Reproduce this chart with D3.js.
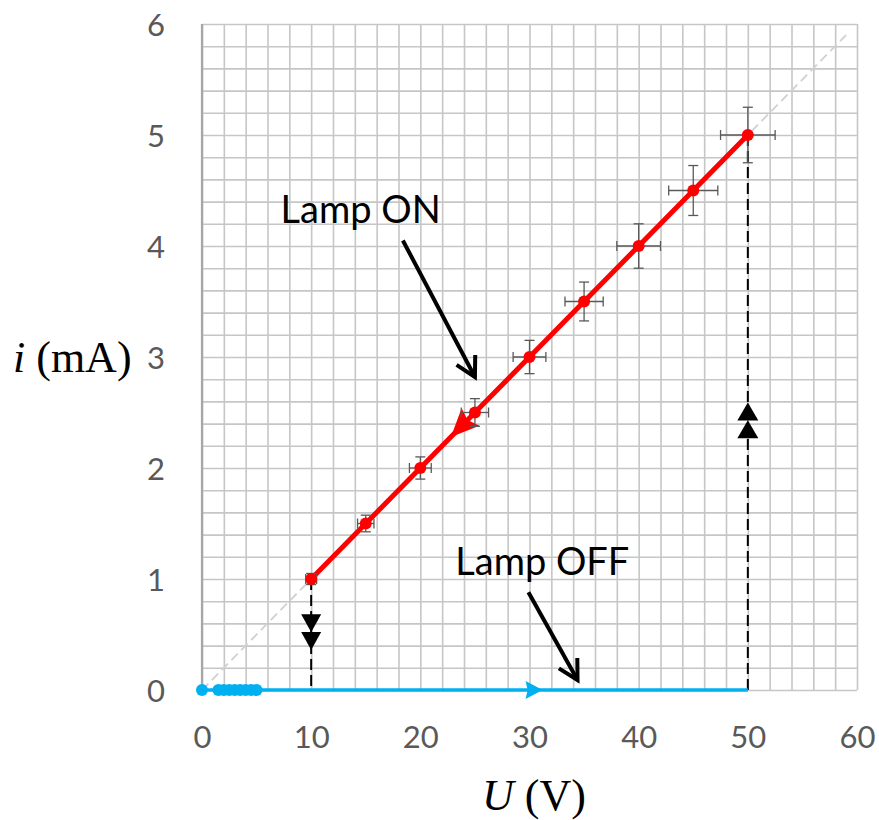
<!DOCTYPE html>
<html>
<head>
<meta charset="utf-8">
<script src="https://cdn.jsdelivr.net/npm/d3@7"></script>
<style>
  body { margin: 0; background: #fff; }
  svg { display: block; }
</style>
</head>
<body>
<div id="chart"></div>
<script>
// lamp ON branch (red), with 5% error bars
var onU    = [10, 15, 20, 25, 30, 35, 40, 45, 50];
var onI    = [1, 1.5, 2, 2.5, 3, 3.5, 4, 4.5, 5];
var onUerr = [0.5, 0.75, 1, 1.25, 1.5, 1.75, 2, 2.25, 2.5];
var onIerr = [0.05, 0.075, 0.1, 0.125, 0.15, 0.175, 0.2, 0.225, 0.25];

// lamp OFF branch (blue)
var offU = [0, 1.5, 2, 2.5, 3, 3.5, 4, 4.5, 5];
var offI = [0, 0, 0, 0, 0, 0, 0, 0, 0];
var offLineU = [0, 50];

// ohmic reference line (grey dashed)
var refU = [0, 59];
var refI = [0, 5.9];

var xTicks = [0, 10, 20, 30, 40, 50, 60];
var yTicks = [0, 1, 2, 3, 4, 5, 6];

// direction markers
var downTipsI = [0.52, 0.36];   // at U = 10
var upTipsI = [2.59, 2.43];     // at U = 50
var redArrowU = 22.8;
var blueArrowU = 31.2;

// annotations
var notes = [
  {text: "Lamp ON",  u: 7.2,  i: 4.21, fromU: 18.4, fromI: 4.05, toU: 25.0, toI: 2.82},
  {text: "Lamp OFF", u: 23.2, i: 1.04, fromU: 29.9, fromI: 0.88, toU: 34.4, toI: 0.09}
];

var W = 879, H = 820;
var svg = d3.select("#chart").append("svg")
    .attr("width", W).attr("height", H);

var x = d3.scaleLinear().domain([0, 60]).range([202, 857]);
var y = d3.scaleLinear().domain([0, 6]).range([690, 24]);

// grid
var grid = svg.append("g");
grid.append("g")
    .attr("transform", "translate(0," + y(0) + ")")
    .call(d3.axisBottom(x).tickValues(d3.range(0, 60.01, 2)).tickSize(-(y(0) - y(6))).tickFormat(""))
    .call(function(g) { g.select(".domain").remove(); })
    .selectAll("line").attr("stroke", "#c6c6c6").attr("stroke-width", 1.6);
grid.append("g")
    .attr("transform", "translate(" + x(0) + ",0)")
    .call(d3.axisLeft(y).tickValues(d3.range(0, 6.001, 0.2)).tickSize(-(x(60) - x(0))).tickFormat(""))
    .call(function(g) { g.select(".domain").remove(); })
    .selectAll("line").attr("stroke", "#c6c6c6").attr("stroke-width", 1.6);

// left axis line
svg.append("line")
    .attr("x1", x(0)).attr("x2", x(0)).attr("y1", y(0)).attr("y2", y(6))
    .attr("stroke", "#a6a6a6").attr("stroke-width", 2.2);

// tick labels
var xAxis = svg.append("g")
    .attr("transform", "translate(0," + (y(0) + 36) + ")")
    .call(d3.axisBottom(x).tickValues(xTicks).tickFormat(d3.format("d")).tickSize(0).tickPadding(0));
xAxis.select(".domain").remove();
xAxis.selectAll("text")
    .attr("font-family", "Lato, sans-serif").attr("font-size", 31)
    .attr("fill", "#595959").attr("dy", "0.71em");

var yAxis = svg.append("g")
    .attr("transform", "translate(165,0)")
    .call(d3.axisLeft(y).tickValues(yTicks).tickFormat(d3.format("d")).tickSize(0).tickPadding(0));
yAxis.select(".domain").remove();
yAxis.selectAll("text")
    .attr("font-family", "Lato, sans-serif").attr("font-size", 31)
    .attr("fill", "#595959").attr("dy", "0.36em");

// axis titles
var yt = svg.append("text").attr("x", 13).attr("y", 372)
    .attr("font-family", "'Liberation Serif', 'Times New Roman', serif").attr("font-size", 44).attr("fill", "#000");
yt.append("tspan").attr("font-style", "italic").text("i");
yt.append("tspan").text(" (mA)");

var xt = svg.append("text").attr("x", 482).attr("y", 810)
    .attr("font-family", "'Liberation Serif', 'Times New Roman', serif").attr("font-size", 44).attr("fill", "#000");
xt.append("tspan").attr("font-style", "italic").text("U");
xt.append("tspan").text(" (V)");

// reference line
svg.append("line")
    .attr("x1", x(refU[0])).attr("y1", y(refI[0]))
    .attr("x2", x(refU[1])).attr("y2", y(refI[1]))
    .attr("stroke", "#d0d0d0").attr("stroke-width", 1.8).attr("stroke-dasharray", "9,5");

// vertical dashed jumps
svg.append("line")
    .attr("x1", x(10)).attr("x2", x(10)).attr("y1", y(onI[0])).attr("y2", y(0))
    .attr("stroke", "#000").attr("stroke-width", 2).attr("stroke-dasharray", "11,5");
svg.append("line")
    .attr("x1", x(50)).attr("x2", x(50)).attr("y1", y(0)).attr("y2", y(onI[onI.length - 1]))
    .attr("stroke", "#000").attr("stroke-width", 2).attr("stroke-dasharray", "11,5");

function tri(tx, ty, angle, len, wid, notch) {
  // triangle with tip at (tx,ty) pointing along angle (radians)
  var c = Math.cos(angle), s = Math.sin(angle);
  var bx = tx - c * len, by = ty - s * len;
  var nx = bx + c * len * notch, ny = by + s * len * notch;
  return "M" + tx + "," + ty +
    "L" + (bx - s * wid / 2) + "," + (by + c * wid / 2) +
    "L" + nx + "," + ny +
    "L" + (bx + s * wid / 2) + "," + (by - c * wid / 2) + "Z";
}

downTipsI.forEach(function(v) {
  svg.append("path").attr("d", tri(x(10), y(v), Math.PI / 2, 18, 20, 0)).attr("fill", "#000");
});
upTipsI.forEach(function(v) {
  svg.append("path").attr("d", tri(x(50), y(v), -Math.PI / 2, 18, 21, 0)).attr("fill", "#000");
});

// blue OFF line and points
svg.append("line")
    .attr("x1", x(offLineU[0])).attr("x2", x(offLineU[1])).attr("y1", y(0)).attr("y2", y(0))
    .attr("stroke", "#00b0f0").attr("stroke-width", 3.5);
svg.append("path").attr("d", tri(x(blueArrowU), y(0), 0, 17, 18, 0.12)).attr("fill", "#00b0f0");
svg.selectAll(".off").data(offU).enter().append("circle")
    .attr("cx", function(d) { return x(d); })
    .attr("cy", function(d, i) { return y(offI[i]); })
    .attr("r", 6).attr("fill", "#00b0f0");

// red ON line
var line = d3.line().x(function(d) { return x(d[0]); }).y(function(d) { return y(d[1]); });
svg.append("path")
    .datum(d3.zip(onU, onI))
    .attr("d", line)
    .attr("fill", "none").attr("stroke", "#ff0000").attr("stroke-width", 5);

var ang = Math.atan2(y(onI[0]) - y(onI[1]), x(onU[0]) - x(onU[1]));
svg.append("path")
    .attr("d", tri(x(redArrowU), y(redArrowU / 10), ang, 28, 25, 0.15))
    .attr("fill", "#ff0000");

// error bars
var eb = svg.append("g").attr("stroke", "#595959").attr("stroke-width", 1.3);
onU.forEach(function(u, k) {
  var cx = x(u), cy = y(onI[k]);
  var x0 = x(u - onUerr[k]), x1 = x(u + onUerr[k]);
  var y0 = y(onI[k] - onIerr[k]), y1 = y(onI[k] + onIerr[k]);
  eb.append("line").attr("x1", x0).attr("x2", x1).attr("y1", cy).attr("y2", cy);
  eb.append("line").attr("x1", cx).attr("x2", cx).attr("y1", y0).attr("y2", y1);
  eb.append("line").attr("x1", x0).attr("x2", x0).attr("y1", cy - 5).attr("y2", cy + 5);
  eb.append("line").attr("x1", x1).attr("x2", x1).attr("y1", cy - 5).attr("y2", cy + 5);
  eb.append("line").attr("x1", cx - 5).attr("x2", cx + 5).attr("y1", y0).attr("y2", y0);
  eb.append("line").attr("x1", cx - 5).attr("x2", cx + 5).attr("y1", y1).attr("y2", y1);
});

svg.selectAll(".on").data(onU).enter().append("circle")
    .attr("cx", function(d) { return x(d); })
    .attr("cy", function(d, i) { return y(onI[i]); })
    .attr("r", 6).attr("fill", "#ff0000");

// annotations
notes.forEach(function(n) {
  svg.append("text").attr("x", x(n.u)).attr("y", y(n.i))
    .attr("font-family", "Lato, sans-serif").attr("font-size", 38).attr("fill", "#000")
    .text(n.text);
  var x1 = x(n.fromU), y1 = y(n.fromI), x2 = x(n.toU), y2 = y(n.toI);
  svg.append("line").attr("x1", x1).attr("y1", y1).attr("x2", x2).attr("y2", y2)
    .attr("stroke", "#000").attr("stroke-width", 4);
  var a = Math.atan2(y2 - y1, x2 - x1), L = 22, spread = 0.5;
  svg.append("path")
    .attr("d", "M" + (x2 - L * Math.cos(a - spread)) + "," + (y2 - L * Math.sin(a - spread)) +
      "L" + x2 + "," + y2 +
      "L" + (x2 - L * Math.cos(a + spread)) + "," + (y2 - L * Math.sin(a + spread)))
    .attr("fill", "none").attr("stroke", "#000").attr("stroke-width", 4)
    .attr("stroke-linejoin", "miter").attr("stroke-linecap", "butt");
});
</script>
</body>
</html>
